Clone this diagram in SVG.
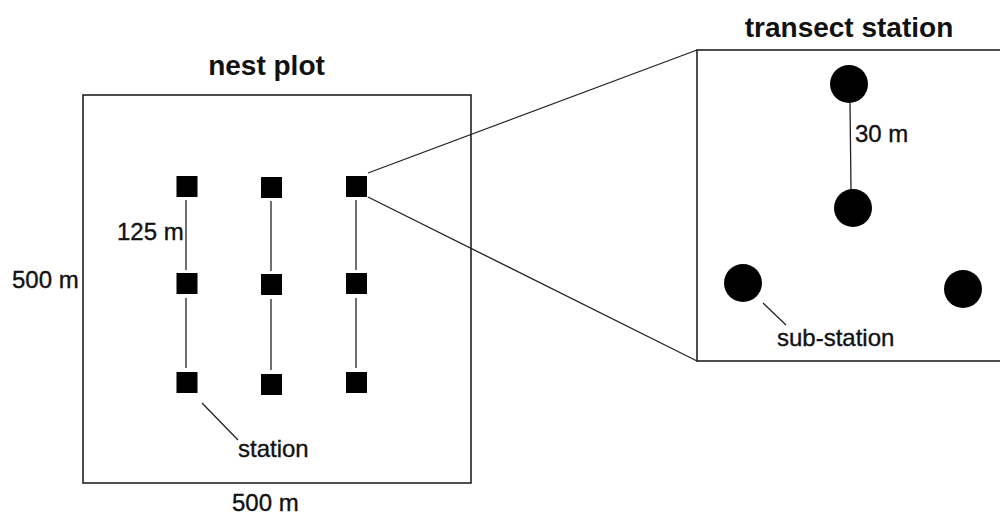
<svg xmlns="http://www.w3.org/2000/svg" width="1000" height="520" viewBox="0 0 1000 520">
  <style>
    .frame { fill: none; stroke: #222; stroke-width: 1.6; }
    .link { fill: none; stroke: #222; stroke-width: 1.3; }
    .station { fill: #000; }
    .sub { fill: #000; }
    .title { font-family: "Liberation Sans", Arial, sans-serif; font-weight: bold; font-size: 28px; fill: #111; text-anchor: middle; }
    .label { font-family: "Liberation Sans", Arial, sans-serif; font-size: 24px; fill: #111; stroke: #111; stroke-width: 0.35; }
  </style>
  <rect width="1000" height="520" fill="#fff"/>

  <!-- nest plot frame -->
  <g id="nest-plot">
    <rect class="frame" x="83" y="95" width="388" height="388"/>
    <text class="title" x="266.5" y="75">nest plot</text>
    <text class="label" x="12" y="288">500 m</text>
    <text class="label" x="232" y="511">500 m</text>
  </g>

  <!-- transect station detail frame, runs off the right edge -->
  <g id="transect-station">
    <rect class="frame" x="697" y="50" width="320" height="311"/>
    <text class="title" x="849" y="37">transect station</text>
  </g>

  <!-- connectors -->
  <g id="connectors">
    <line class="link" x1="186" y1="200" x2="186" y2="270"/>
    <line class="link" x1="186" y1="298" x2="186" y2="368"/>
    <line class="link" x1="271" y1="201" x2="271" y2="271"/>
    <line class="link" x1="271" y1="299" x2="271" y2="370"/>
    <line class="link" x1="356" y1="200" x2="356" y2="270"/>
    <line class="link" x1="356" y1="298" x2="356" y2="368"/>
    <!-- zoom-out lines to the detail frame -->
    <line class="link" x1="368" y1="173" x2="697" y2="50"/>
    <line class="link" x1="368" y1="197" x2="697" y2="361"/>
    <!-- sub-station spacing -->
    <line class="link" x1="850" y1="103" x2="851" y2="190"/>
    <!-- label leaders -->
    <line class="link" x1="202" y1="403" x2="238" y2="440"/>
    <line class="link" x1="763" y1="303" x2="786" y2="325"/>
  </g>

  <!-- stations -->
  <g id="station-1-1"><rect class="station" x="176.5" y="176" width="21" height="21"/></g>
  <g id="station-2-1"><rect class="station" x="261" y="177" width="21" height="21"/></g>
  <g id="station-3-1"><rect class="station" x="346" y="176" width="21" height="21"/></g>
  <g id="station-1-2"><rect class="station" x="176.5" y="273" width="21" height="21"/></g>
  <g id="station-2-2"><rect class="station" x="261" y="274" width="21" height="21"/></g>
  <g id="station-3-2"><rect class="station" x="346" y="273" width="21" height="21"/></g>
  <g id="station-1-3"><rect class="station" x="176.5" y="372" width="21" height="21"/></g>
  <g id="station-2-3"><rect class="station" x="261" y="374" width="21" height="21"/></g>
  <g id="station-3-3"><rect class="station" x="346" y="372" width="21" height="21"/></g>

  <!-- sub-stations -->
  <g id="sub-top"><circle class="sub" cx="849" cy="84" r="19"/></g>
  <g id="sub-middle"><circle class="sub" cx="853" cy="208" r="19"/></g>
  <g id="sub-left"><circle class="sub" cx="743" cy="283" r="19"/></g>
  <g id="sub-right"><circle class="sub" cx="963" cy="289" r="19"/></g>

  <!-- labels -->
  <g id="labels">
    <text class="label" x="117" y="240">125 m</text>
    <text class="label" x="238" y="457">station</text>
    <text class="label" x="855" y="142">30 m</text>
    <text class="label" x="777" y="346">sub-station</text>
  </g>
</svg>
